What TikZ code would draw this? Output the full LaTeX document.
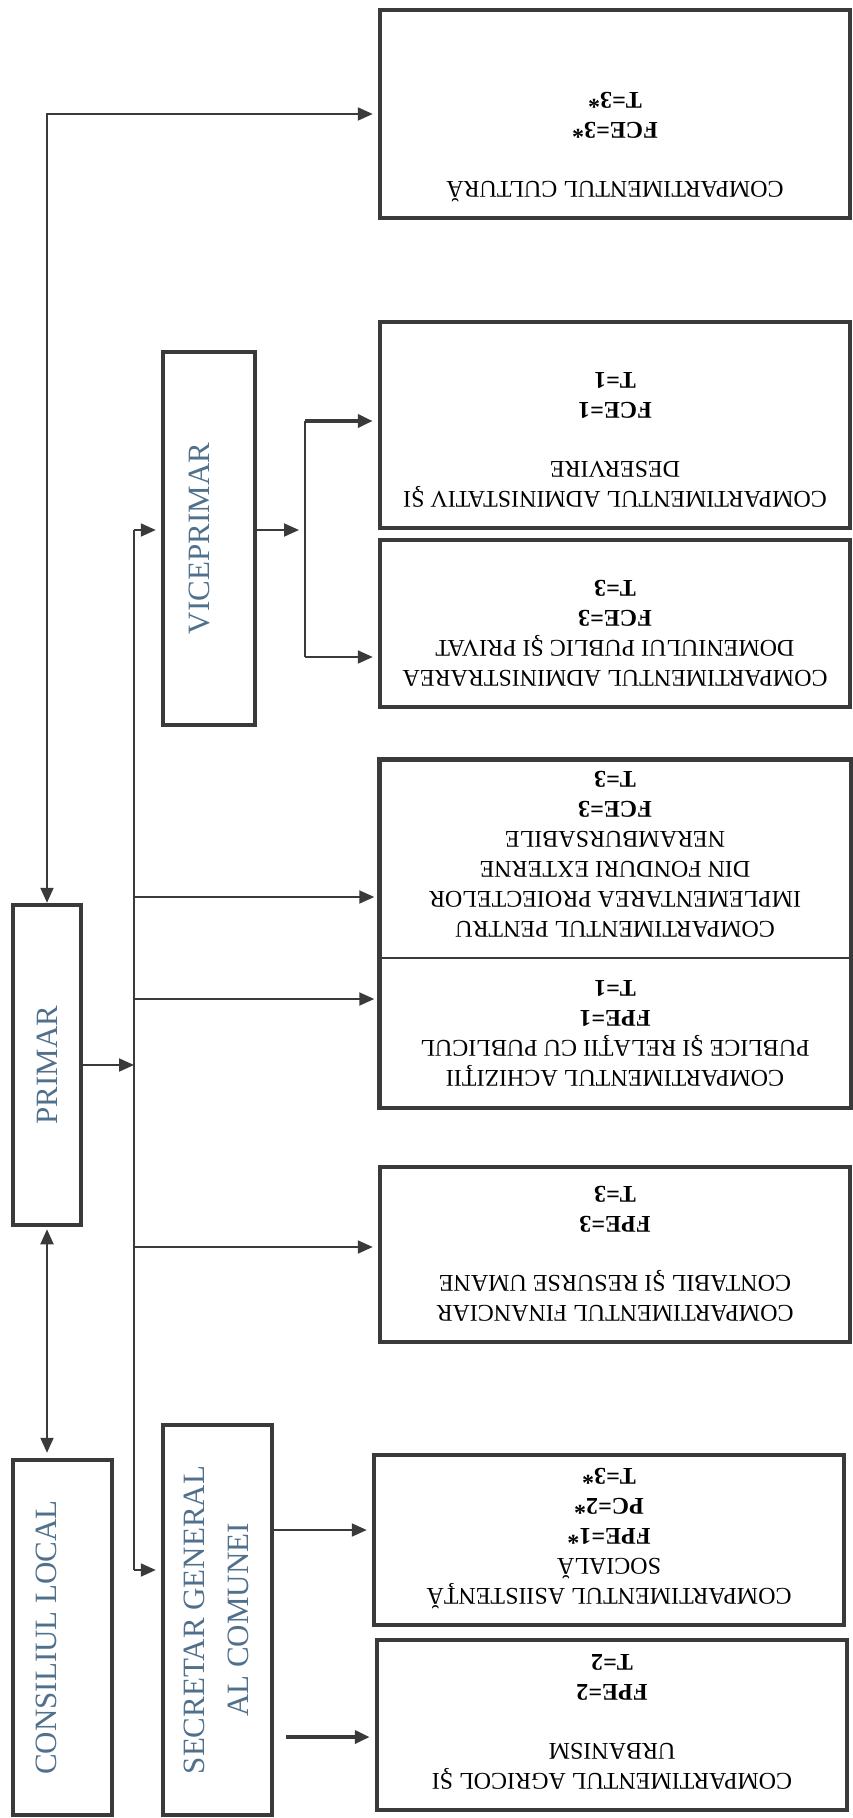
\documentclass[tikz,border=0pt]{standalone}
\usepackage{fontspec}
\setmainfont{Liberation Serif}
\usepackage{graphicx}
\usepackage{tikz}
\usetikzlibrary{arrows.meta, positioning, calc}
\definecolor{OrgGray}{RGB}{58,58,58}
\definecolor{OrgBlue}{RGB}{80,112,140}
\newcommand{\chieffont}{\fontsize{31}{44}\selectfont}
\newcommand{\deptfont}{\fontsize{24}{30}\selectfont}
% department text: upside down, set from the top of its box
\newcommand{\depttext}[2]{\rotatebox{180}{\parbox[c][#1][t]{460pt}{\centering\vspace*{16pt}\strut #2}}}

\begin{document}
\begin{tikzpicture}[x=1pt, y=-1pt,
    dept/.style={rectangle, draw=OrgGray, line width=4.5pt, inner sep=0pt,
                 minimum width=470pt, font=\deptfont},
    chief/.style={rectangle, draw=OrgGray, line width=4.5pt, inner sep=0pt,
                  text=OrgBlue, font=\chieffont},
    conn/.style={draw=OrgGray, line width=2pt},
    arr/.style={conn, -{Triangle[length=15pt, width=13pt]}, shorten >=5pt},
    darr/.style={conn, {Triangle[length=15pt, width=13pt]}-{Triangle[length=15pt, width=13pt]},
                 shorten >=5pt, shorten <=2pt},
    heavy/.style={line width=4pt}
  ]
  \useasboundingbox (0,0) rectangle (852,1818);

  % Left column
  \node[chief, minimum width=68pt, minimum height=320pt] (primar) at (47,1065)
        {\rotatebox{90}{PRIMAR}};
  \node[chief, minimum width=99pt, minimum height=355pt] (consil) at (62.5,1637.5)
        {\rotatebox{90}{CONSILIUL LOCAL\rule[-33pt]{0pt}{33pt}}};
  \node[chief, minimum width=92pt, minimum height=373pt] (vice) at (209,538.5)
        {\rotatebox{90}{VICEPRIMAR\rule[-20pt]{0pt}{20pt}}};
  \node[chief, minimum width=109pt, minimum height=390pt] (secret) at (217.5,1620)
        {\rotatebox{90}{\begin{tabular}{@{}c@{}}SECRETAR GENERAL\\AL COMUNEI\end{tabular}}};

  % Compartments
  \node[dept, minimum height=208pt] (cult) at (615,114)
        {\depttext{208pt}{COMPARTIMENTUL CULTURĂ\\[29pt]\textbf{FCE=3*}\\\textbf{T=3*}}};
  \node[dept, minimum height=206pt] (admin) at (615,425)
        {\depttext{206pt}{COMPARTIMENTUL ADMINISTATIV ŞI\\DESERVIRE\\[29pt]\textbf{FCE=1}\\\textbf{T=1}}};
  \node[dept, minimum height=167pt] (domen) at (615,623.5)
        {\depttext{167pt}{COMPARTIMENTUL ADMINISTRAREA\\DOMENIULUI PUBLIC ŞI PRIVAT\\\textbf{FCE=3}\\\textbf{T=3}}};
  \node[dept, line width=1.5pt, minimum height=198pt] (proiect) at (615,859)
        {\depttext{198pt}{COMPARTIMENTUL PENTRU\\IMPLEMENTAREA PROIECTELOR\\DIN FONDURI EXTERNE\\NERAMBURSABILE\\\textbf{FCE=3}\\\textbf{T=3}}};
  \node[dept, line width=1.5pt, minimum height=149pt] (achiz) at (615,1032.5)
        {\depttext{149pt}{COMPARTIMENTUL ACHIZIŢII\\PUBLICE ŞI RELAŢII CU PUBLICUL\\\textbf{FPE=1}\\\textbf{T=1}}};
  \draw[OrgGray, line width=4.5pt] (proiect.north west) rectangle (achiz.south east);
  \node[dept, minimum height=175pt] (finan) at (615,1254.5)
        {\depttext{175pt}{COMPARTIMENTUL FINANCIAR\\CONTABIL ŞI RESURSE UMANE\\[29pt]\textbf{FPE=3}\\\textbf{T=3}}};
  \node[dept, minimum height=170pt] (asist) at (609,1540)
        {\depttext{170pt}{COMPARTIMENTUL ASIISTENŢĂ\\SOCIALĂ\\\textbf{FPE=1*}\\\textbf{PC=2*}\\\textbf{T=3*}}};
  \node[dept, minimum height=170pt] (agric) at (612,1725)
        {\depttext{170pt}{COMPARTIMENTUL AGRICOL ŞI\\URBANISM\\[29pt]\textbf{FPE=2}\\\textbf{T=2}}};

  % Links
  \coordinate (tTop) at (134,530);
  \coordinate (tBot) at (134,1570);
  \coordinate (bTop) at (305,421);
  \coordinate (bBot) at (305,657);
  \coordinate (agIn) at (286,1737);

  \draw[darr, shorten <=0pt] (primar.north) |- (cult.west);
  \draw[darr] (primar.south) -- (primar.south |- consil.north);
  \draw[arr, shorten >=0pt] (primar.east) -- (primar.east -| tTop);
  \draw[conn] (tTop) -- (tBot);
  \draw[arr] (tTop) -- (tTop -| vice.west);
  \draw[arr] (tBot) -- (tBot -| secret.west);
  \foreach \y/\n in {897/proiect, 999/achiz, 1247/finan}
    \draw[arr] (tTop |- 0,\y) -- (\n.west |- 0,\y);

  \draw[arr, shorten >=6pt] (vice.east |- tTop) -- (bTop |- tTop);
  \draw[conn] (bTop) -- (bBot);
  \draw[arr, heavy] (bTop) -- (bTop -| admin.west);
  \draw[arr] (bBot) -- (bBot -| domen.west);

  \draw[arr] (secret.east |- 0,1530) -- (asist.west |- 0,1530);
  \draw[arr, heavy] (agIn) -- (agIn -| agric.west);
\end{tikzpicture}
\end{document}
